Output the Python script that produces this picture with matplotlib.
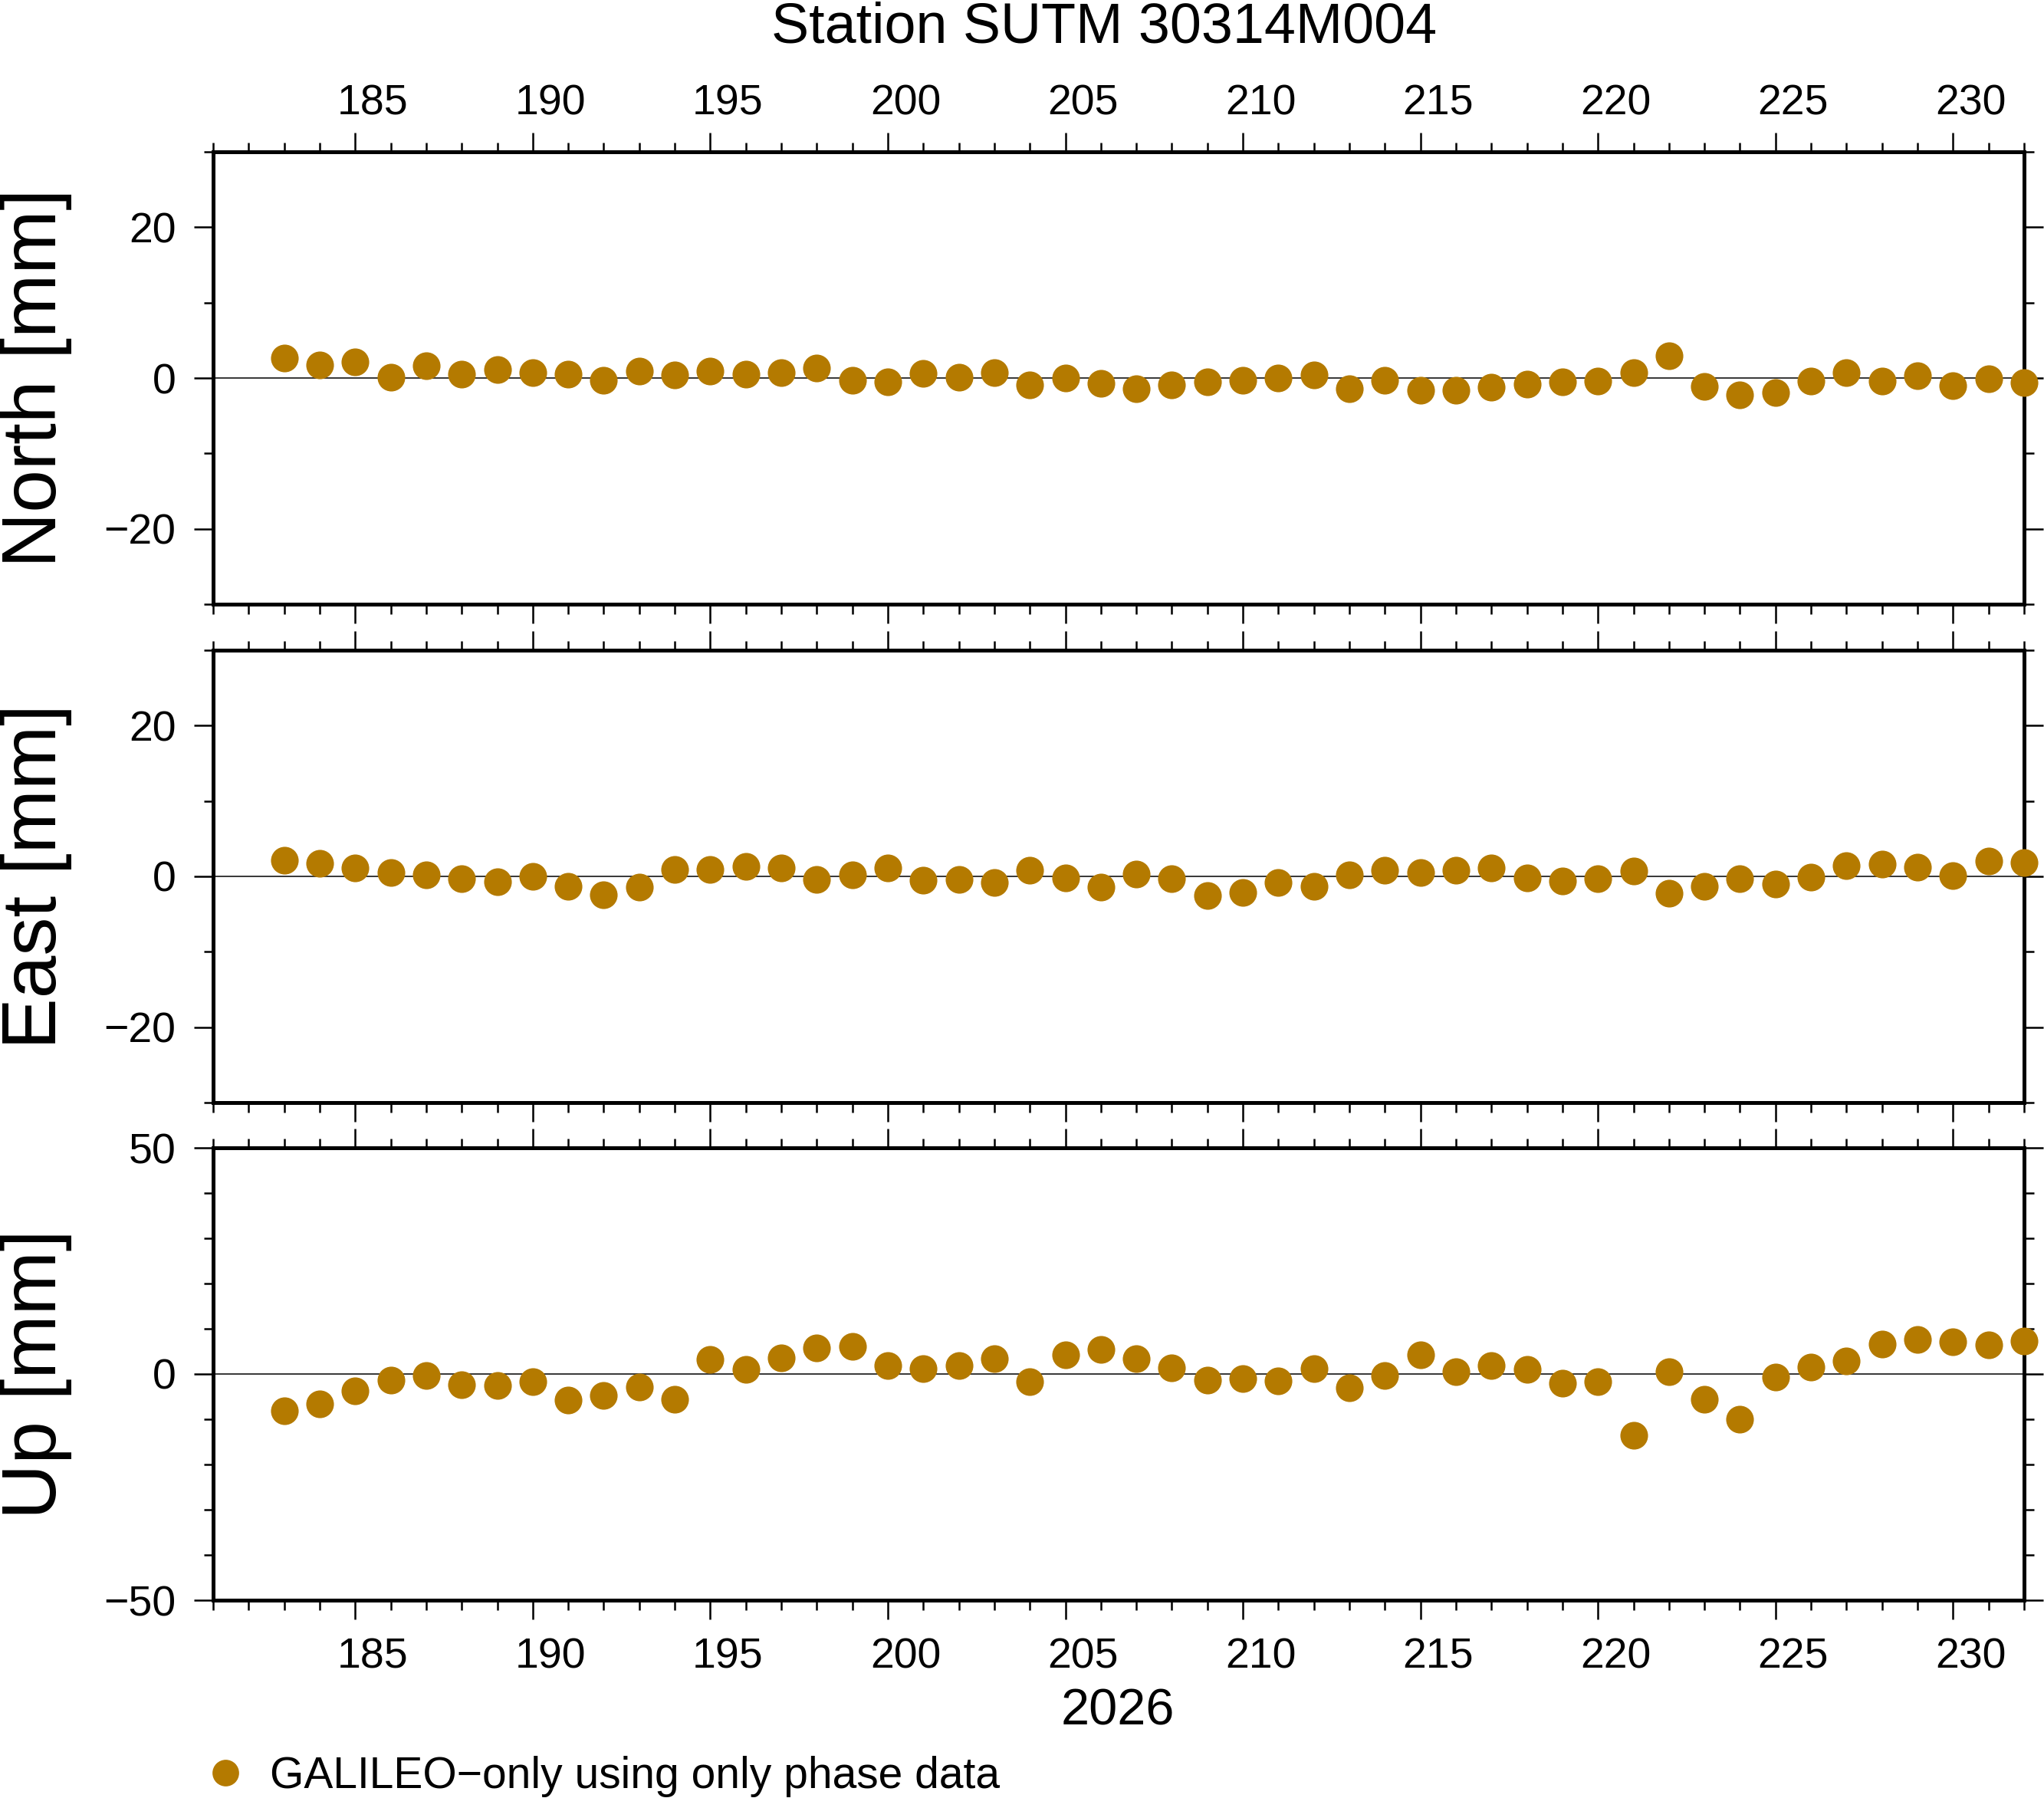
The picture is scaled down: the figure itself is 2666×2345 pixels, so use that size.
import numpy as np
import matplotlib
matplotlib.use('Agg')
import matplotlib.pyplot as plt
from matplotlib.ticker import MultipleLocator
from matplotlib.transforms import ScaledTranslation

plt.rcParams['font.family'] = ['Liberation Sans', 'DejaVu Sans']

# day of year 2026
days = list(range(183, 233))

north = [2.65, 1.72, 2.1, 0.08, 1.6, 0.5, 1.09, 0.76, 0.5, -0.3,
         0.88, 0.38, 0.88, 0.55, 0.76, 1.3, -0.34, -0.5, 0.59, 0.08,
         0.67, -0.92, 0.0, -0.71, -1.43, -0.92, -0.5, -0.3, 0.0, 0.42,
         -1.43, -0.3, -1.64, -1.64, -1.22, -0.8, -0.5, -0.42, 0.67, 2.94,
         -1.13, -2.23, -1.93, -0.42, 0.67, -0.42, 0.29, -1.0, -0.08, -0.63]

east = [2.12, 1.72, 1.11, 0.5, 0.2, -0.3, -0.71, 0.0, -1.31, -2.42,
        -1.41, 0.91, 0.91, 1.31, 1.11, -0.37, 0.2, 1.11, -0.5, -0.4,
        -0.81, 0.81, -0.2, -1.41, 0.34, -0.3, -2.53, -2.12, -0.81, -1.31,
        0.2, 0.81, 0.5, 0.81, 1.11, -0.2, -0.61, -0.3, 0.71, -2.22,
        -1.31, -0.3, -1.01, -0.1, 1.41, 1.62, 1.21, 0.1, 2.02, 1.82]

up = [-8.08, -6.61, -3.73, -1.36, -0.34, -2.37, -2.54, -1.69, -5.76, -4.75,
      -2.88, -5.54, 3.22, 1.02, 3.56, 5.76, 6.10, 1.86, 1.19, 1.86,
      3.39, -1.69, 4.24, 5.42, 3.39, 1.36, -1.36, -1.02, -1.53, 1.19,
      -3.05, -0.34, 4.24, 0.51, 1.86, 1.02, -2.03, -1.69, -13.56, 0.51,
      -5.59, -10.0, -0.68, 1.53, 2.88, 6.61, 7.63, 7.12, 6.44, 7.29]

panels = [('North [mm]', north, 30, 20), ('East [mm]', east, 30, 20), ('Up [mm]', up, 50, 50)]
dot_color = '#b47a00'

W, H = 2666, 2345
fig = plt.figure(figsize=(W / 100, H / 100), dpi=100)

left = 278 / W
width = (2640 - 278) / W
tops = [198, 848, 1497]
ph = 590

# day labels sit in the middle of the day interval (GMT style)
day_shift = 0.5 * (2640 - 278) / 51 / 100

axes = []
for i, (label, vals, lim, major) in enumerate(panels):
    ax = fig.add_axes([left, 1 - (tops[i] + ph) / H, width, ph / H])
    ax.axhline(0, color='black', lw=1.1, zorder=1)
    ax.plot(days, vals, 'o', color=dot_color, markersize=26, markeredgewidth=0,
            clip_on=False, zorder=5)
    ax.set_xlim(181, 232)
    ax.set_ylim(-lim, lim)
    ax.xaxis.set_major_locator(MultipleLocator(5))
    ax.xaxis.set_minor_locator(MultipleLocator(1))
    ax.yaxis.set_major_locator(MultipleLocator(major))
    ax.yaxis.set_minor_locator(MultipleLocator(10))
    for s in ax.spines.values():
        s.set_linewidth(3.6)
    ax.tick_params(which='both', direction='out', width=1.8, top=True, right=True,
                   labelsize=40, pad=17)
    ax.tick_params(which='major', length=18)
    ax.tick_params(which='minor', length=9)
    ax.tick_params(axis='x', labelbottom=(i == 2), labeltop=(i == 0))
    for tk in ax.xaxis.get_major_ticks():
        tk.label1.set_transform(tk.label1.get_transform() + ScaledTranslation(day_shift, 0, fig.dpi_scale_trans))
        tk.label2.set_transform(tk.label2.get_transform() + ScaledTranslation(day_shift, -0.12, fig.dpi_scale_trans))
    fig.text(73 / W, 1 - (tops[i] + ph / 2) / H, label, rotation=90,
             rotation_mode='anchor', ha='center', va='baseline', fontsize=72)
    axes.append(ax)

fig.text(1440 / W, 1 - 55 / H, 'Station SUTM 30314M004', ha='center', va='baseline', fontsize=53)
fig.text(1458 / W, 1 - 2249 / H, '2026', ha='center', va='baseline', fontsize=48)

# legend row
fig.lines.append(plt.Line2D([294 / W], [1 - 2312 / H], marker='o', color=dot_color,
                            markersize=25, markeredgewidth=0, transform=fig.transFigure))
fig.text(352 / W, 1 - 2332 / H, 'GALILEO\u2212only using only phase data',
         ha='left', va='baseline', fontsize=41)

fig.savefig('out.png', dpi=100)
